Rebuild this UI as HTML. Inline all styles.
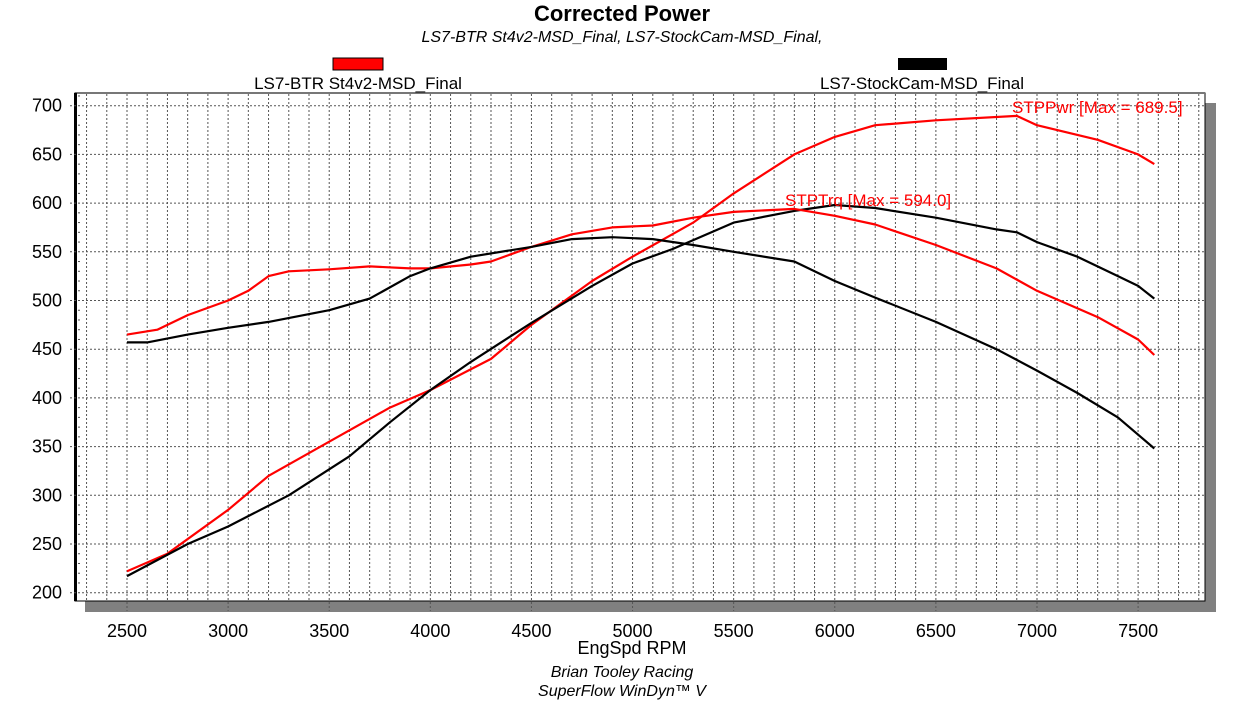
<!DOCTYPE html>
<html><head><meta charset="utf-8"><style>
body{margin:0;background:#fff;width:1244px;height:700px;overflow:hidden;font-family:"Liberation Sans",Arial,sans-serif}
</style></head><body>
<svg id="s" width="1244" height="700" xmlns="http://www.w3.org/2000/svg" font-family="Liberation Sans, Arial, sans-serif">
<rect x="85" y="103" width="1131" height="509" fill="#808080"/>
<rect x="75" y="93" width="1130" height="508" fill="#fff" stroke="#000" stroke-width="1"/>
<line x1="75" y1="93" x2="1205" y2="93" stroke="#777" stroke-width="2"/>
<line x1="75.5" y1="93" x2="75.5" y2="601" stroke="#000" stroke-width="3"/>
<g id="grid" stroke="#555" stroke-width="1" stroke-dasharray="2,2"></g>
<g id="lbl" font-size="18" fill="#000"></g>
<g id="series" fill="none" stroke-width="2.2" stroke-linejoin="round"></g>
<text x="622" y="21" font-size="22" font-weight="bold" text-anchor="middle">Corrected Power</text>
<text x="622" y="42" font-size="16" font-style="italic" text-anchor="middle">LS7-BTR St4v2-MSD_Final, LS7-StockCam-MSD_Final,</text>
<rect x="333" y="58" width="50" height="12" fill="#f00" stroke="#000" stroke-width="1"/>
<rect x="898" y="58" width="49" height="12" fill="#000"/>
<text x="358" y="89" font-size="17" text-anchor="middle">LS7-BTR St4v2-MSD_Final</text>
<text x="922" y="89" font-size="17" text-anchor="middle">LS7-StockCam-MSD_Final</text>
<text x="1012" y="113" font-size="17" fill="#f00">STPPwr [Max = 689.5]</text>
<text x="785" y="206" font-size="17" fill="#f00">STPTrq [Max = 594.0]</text>
<text x="632" y="654" font-size="18" text-anchor="middle">EngSpd RPM</text>
<text x="622" y="677" font-size="16" font-style="italic" text-anchor="middle">Brian Tooley Racing</text>
<text x="622" y="696" font-size="16" font-style="italic" text-anchor="middle">SuperFlow WinDyn™ V</text>
</svg>
<script>
const X=r=>127+(r-2500)*0.20222, Y=v=>105.7+(700-v)*0.974;
const g=document.getElementById('grid'),l=document.getElementById('lbl'),s=document.getElementById('series');
const NS='http://www.w3.org/2000/svg';
function el(p,t,a,txt){const e=document.createElementNS(NS,t);for(const k in a)e.setAttribute(k,a[k]);if(txt)e.textContent=txt;p.appendChild(e);return e;}
for(let r=2300;r<=7800;r+=100){const x=X(r);if(x<80||x>1202)continue;el(g,'line',{x1:x,y1:94,x2:x,y2:(r%500==0?611:600)});}
for(let v=200;v<=700;v+=50){const y=Y(v);el(g,'line',{x1:70,y1:y,x2:1204,y2:y});el(l,'text',{x:62,y:y+6,'text-anchor':'end'},String(v));}
for(let v=210;v<=710;v+=10){if(v%50)el(g,'line',{x1:78,y1:Y(v),x2:81,y2:Y(v)});}
for(let r=2500;r<=7500;r+=500)el(l,'text',{x:X(r),y:637,'text-anchor':'middle'},String(r));
const data=[
['#f00',[[2500,222],[2700,240],[3000,285],[3200,320],[3500,355],[3800,390],[4000,408],[4300,440],[4500,475],[4800,520],[5000,545],[5300,580],[5500,610],[5800,650],[6000,668],[6200,680],[6500,685],[6900,689.5],[7000,680],[7300,665],[7500,650],[7580,640]]],
['#000',[[2500,217],[2800,250],[3000,268],[3300,300],[3600,340],[3800,375],[4000,408],[4200,437],[4500,477],[4800,515],[5000,538],[5200,553],[5500,580],[5800,592],[6000,598],[6200,595],[6500,585],[6800,573],[6900,570],[7000,560],[7200,545],[7400,525],[7500,515],[7580,502]]],
['#f00',[[2500,465],[2650,470],[2800,485],[3000,500],[3100,510],[3200,525],[3300,530],[3500,532],[3700,535],[3900,533],[4000,533],[4200,537],[4300,540],[4500,555],[4700,568],[4900,575],[5100,577],[5300,585],[5500,591],[5800,594],[6000,587],[6200,578],[6500,557],[6800,533],[7000,510],[7300,483],[7500,460],[7580,444]]],
['#000',[[2500,457],[2600,457],[2800,465],[3000,472],[3200,478],[3500,490],[3700,502],[3900,525],[4000,533],[4200,545],[4500,555],[4700,563],[4900,565],[5100,563],[5300,557],[5500,550],[5800,540],[6000,520],[6200,503],[6500,478],[6800,450],[7000,428],[7200,405],[7400,380],[7580,348]]]];
for(const [c,p] of data)el(s,'polyline',{stroke:c,points:p.map(q=>X(q[0]).toFixed(1)+','+Y(q[1]).toFixed(1)).join(' ')});
</script>
</body></html>
